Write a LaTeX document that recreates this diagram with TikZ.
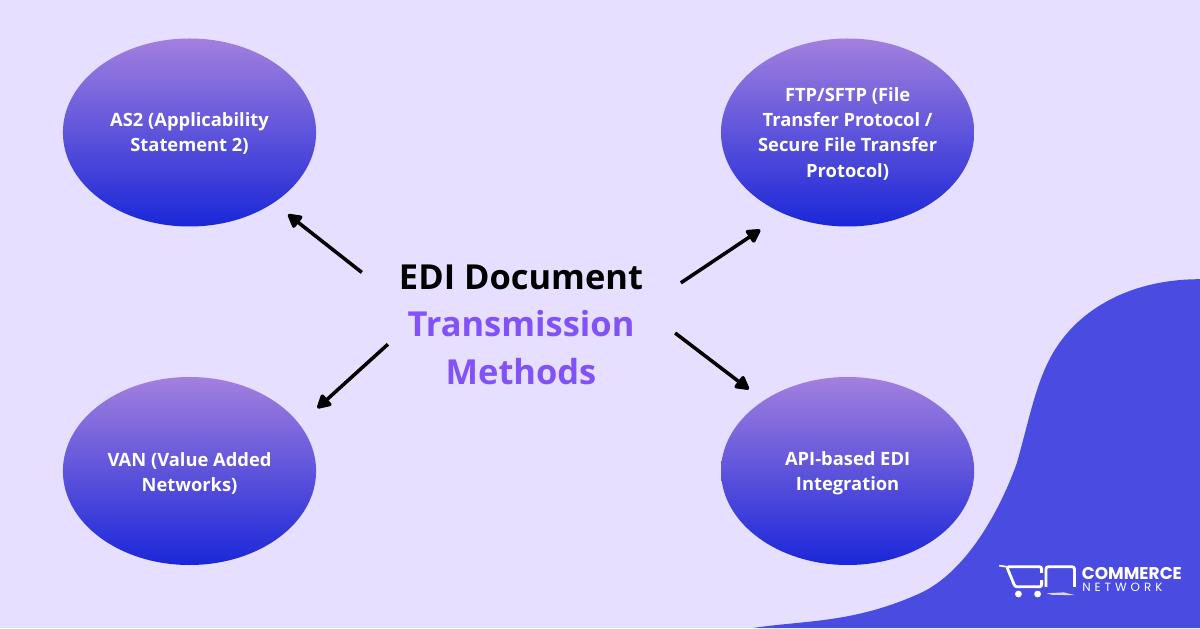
\documentclass[tikz,border=0pt]{standalone}
\usepackage{fontspec}
\usepackage{xcolor}
\setmainfont{Open Sans}
\newfontfamily\logofont{Poppins}
\newfontfamily\logowide[LetterSpace=33]{Poppins}
\usetikzlibrary{shapes.geometric, arrows.meta}
\definecolor{pagebg}{HTML}{E6DFFF}
\definecolor{blob}{HTML}{4A4BE0}
\definecolor{ovaltop}{HTML}{A280DE}
\definecolor{ovalbot}{HTML}{1A27D8}
\definecolor{titlepurple}{HTML}{8052F7}
\newcommand{\droptext}[1]{\rule{0pt}{#1pt}}
\tikzset{
    method/.style={ellipse, minimum width=6.33cm, minimum height=4.7cm, inner sep=0pt, top color=ovaltop, bottom color=ovalbot, text=white, align=center, font=\fontsize{13.05}{17.8}\selectfont\bfseries},
    link/.style={-{Triangle[length=11pt,width=11.5pt,round]}, line width=2.5pt, black},
    logoline/.style={white, line width=2pt, rounded corners=1.5pt},
}
\begin{document}
\begin{tikzpicture}
    \useasboundingbox (0,0) rectangle (30,15.7);
    \fill[pagebg] (0,0) rectangle (30,15.7);

    % corner shape
    \fill[blob] (18.83,0) .. controls (20.17,0.2) and (21.33,0.117) .. (23,0.867)
        .. controls (24.17,1.41) and (25,2.95) .. (25.42,4.12)
        .. controls (25.75,5.28) and (25.92,6.28) .. (26.42,7.03)
        .. controls (27.08,8.03) and (28.33,8.72) .. (30,8.72) -- (30,0) -- cycle;

    \node[method] (as2) at (4.7375,12.3875) {\droptext{12}AS2 (Applicability\\Statement 2)};
    \node[method] (ftp) at (21.19,12.3875) {\droptext{12}FTP/SFTP (File\\Transfer Protocol /\\Secure File Transfer\\Protocol)};
    \node[method] (van) at (4.7375,3.925) {\droptext{13}VAN (Value Added\\Networks)};
    \node[method] (api) at (21.19,3.925) {\droptext{13}API-based EDI\\Integration};

    \node[minimum width=6.15cm, minimum height=3.6cm, inner sep=0pt, align=center, font=\fontsize{24.5}{33.8}\selectfont\bfseries] (title) at (13.025,7.585)
        {EDI Document\\\textcolor{titlepurple}{Transmission}\\\textcolor{titlepurple}{Methods}};

    \draw[link, shorten <=1.14cm, shorten >=0.46cm] (title.169) -- (as2.-40.3);
    \draw[link, shorten <=1.10cm, shorten >=0.71cm] (title.8.8) -- (ftp.232.3);
    \draw[link, shorten <=0.33cm, shorten >=0.60cm] (title.185.6) -- (van.23.3);
    \draw[link, shorten <=0.97cm, shorten >=0.46cm] (title.7.7) -- (api.140.6);

    % logo
    \draw[white, line width=1.2pt] (24.98,1.56) -- (25.17,1.53);
    \draw[logoline] (26.04,1.2) -- (26.04,1.03) -- (25.375,1.03) -- (25.17,1.53) -- (26.04,1.53) -- (26.04,1.38);
    \draw[logoline] (26.15,1.03) -- (26.15,1.53) -- (26.86,1.53) -- (26.86,1.03);
    \fill[white] (25.46,0.85) circle (0.085);
    \fill[white] (25.94,0.85) circle (0.085);
    \fill[white!80!blob] (26.17,0.87) -- (26.6,0.89) -- (26.88,0.82) -- (26.3,0.83) -- cycle;
    \node[anchor=west, inner sep=0pt, text=white, font=\logofont\fontsize{12.1}{12}\selectfont\bfseries] (brand) at (27.04,1.367) {COMMERCE};
    \node[anchor=west, inner sep=0pt, text=white, font=\logowide\fontsize{8.5}{8.5}\selectfont] (brandsub) at (27.05,1.02) {NETWORK};
\end{tikzpicture}
\end{document}
